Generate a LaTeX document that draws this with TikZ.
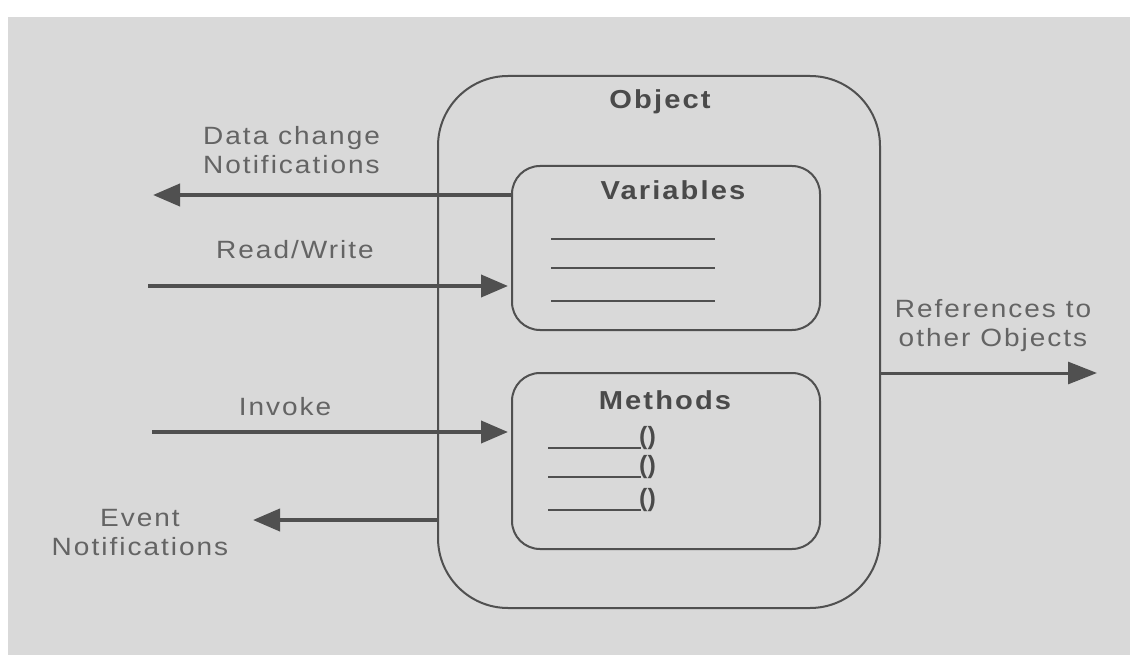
\documentclass[tikz,border=0pt]{standalone}
\usepackage{fontspec}
\setmainfont{Liberation Sans}
\newfontfamily\lblfont[FakeStretch=1.12,LetterSpace=8]{Liberation Sans}
\usetikzlibrary{arrows.meta}
\definecolor{bg}{HTML}{D9D9D9}
\definecolor{ink}{HTML}{505050}
\definecolor{txt}{HTML}{646464}
\definecolor{ttl}{HTML}{4A4A4A}
\tikzset{
  box/.style={draw=ink, line width=2pt, inner sep=0pt},
  lbl/.style={text=txt, inner sep=0pt, align=center,
    font=\lblfont\fontsize{25}{29}\selectfont},
  ttlbl/.style={text=ttl, inner sep=0pt,
    font=\lblfont\bfseries\fontsize{26}{30}\selectfont},
  paren/.style={text=ttl, inner sep=0pt, anchor=base west,
    font=\bfseries\fontsize{25}{28}\selectfont},
  rule/.style={draw=ink, line width=1.6pt},
  flow/.style={draw=ink, line width=4pt,
    -{Triangle[length=27pt,width=22pt]}, shorten >=3pt},
  thinflow/.style={draw=ink, line width=3pt,
    -{Triangle[length=29pt,width=22pt]}},
}
\begin{document}
\begin{tikzpicture}[x=1pt,y=-1pt]
\useasboundingbox (0,0) rectangle (1130,655);
\fill[white] (0,0) rectangle (1130,655);
\fill[bg] (8,17) rectangle (1130,655);

% object with its two compartments
\node[box, rounded corners=70pt, minimum width=442pt, minimum height=532pt] (obj) at (659,342) {};
\node[ttlbl] (objlbl) at (660,102) {Object};

\node[box, rounded corners=28pt, minimum width=308pt, minimum height=164pt] (vars) at (666,248) {};
\node[ttlbl] (varlbl) at (673,190) {Variables};
\draw[rule] (551,239) -- (715,239);
\draw[rule] (551,268) -- (715,268);
\draw[rule] (551,301) -- (715,301);

\node[box, rounded corners=28pt, minimum width=308pt, minimum height=176pt] (meth) at (666,461) {};
\node[ttlbl] (methlbl) at (665,400) {Methods};
\draw[rule] (548,448) -- (641,448);
\draw[rule] (548,477) -- (641,477);
\draw[rule] (548,510) -- (641,510);
\node[paren] (m1) at (639,444) {()};
\node[paren] (m2) at (639,473) {()};
\node[paren] (m3) at (639,506) {()};

% free ends of the connectors
\coordinate (dcend) at (153,195);
\coordinate (rwstart) at (148,286);
\coordinate (invstart) at (152,432);
\coordinate (evend) at (253,520);
\coordinate (refend) at (1097,373);

% connectors
\draw[flow, shorten >=0pt] ([yshift=53pt]vars.west) -- (dcend);
\draw[flow] (rwstart) -- ([yshift=-38pt]vars.west);
\draw[flow] (invstart) -- ([yshift=29pt]meth.west);
\draw[flow, shorten >=0pt] ([yshift=-178pt]obj.west) -- (evend);
\draw[thinflow] ([yshift=-31pt]obj.east) -- (refend);

% labels
\node[lbl, anchor=west, align=left] (dclbl) at (203,150) {Data change\\Notifications};
\node[lbl] (rwlbl) at (295,250) {Read/Write};
\node[lbl] (invlbl) at (285,407) {Invoke};
\node[lbl] (evlbl) at (140,533) {Event\\Notifications};
\node[lbl] (reflbl) at (993,326) {References to\\other Objects};
\end{tikzpicture}
\end{document}
